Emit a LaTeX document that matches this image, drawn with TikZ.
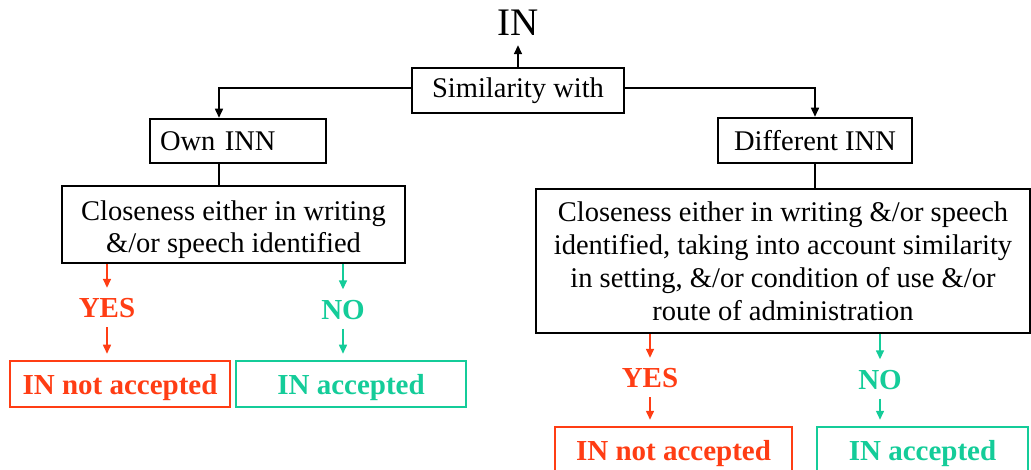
\documentclass[tikz,border=0pt]{standalone}
\usepackage{fontspec}
\setmainfont{Liberation Serif}
\usepackage{xcolor}
\usetikzlibrary{arrows.meta, positioning}

\definecolor{yesred}{HTML}{FF3D14}
\definecolor{nogreen}{HTML}{14CC99}

\tikzset{
  box/.style={draw, line width=2.5pt, inner sep=0pt, align=center,
    font=\fontsize{28.5}{33}\selectfont},
  res/.style={draw, line width=2.5pt, inner sep=0pt, minimum height=46pt,
    text depth=0pt, font=\bfseries\fontsize{29}{33}\selectfont},
  ans/.style={inner sep=0pt, minimum height=37pt,
    font=\bfseries\fontsize{29}{33}\selectfont},
  link/.style={line width=2pt},
  tip/.style={-{Triangle[length=9pt,width=8pt]}, line width=1.5pt},
}

\begin{document}
\begin{tikzpicture}[x=1pt, y=-1pt]

  \useasboundingbox (0,0) rectangle (1031,470);

  % Top of the tree
  \node[inner sep=0pt, minimum height=44pt, font=\fontsize{39}{44}\selectfont] (title) at (518,23) {IN};
  \node[box, minimum width=212pt, minimum height=45pt] (sim) at (518,90.5) {Similarity with};

  % Left branch (own INN)
  \node[box, minimum width=176pt, minimum height=44pt, text width=156pt, align=left] (own) at (238,141) {Own INN};
  \node[box, minimum width=343pt, minimum height=77pt, font=\fontsize{28.5}{32}\selectfont] (cl1) at (233.5,224.5)
    {\rule{0pt}{31pt}Closeness either in writing\\ \&/or speech identified};

  % Right branch (different INN)
  \node[box, minimum width=194pt, minimum height=45pt] (diff) at (815,140.5) {Different INN};
  \node[box, minimum width=494pt, minimum height=144pt] (cl2) at (783,261)
    {Closeness either in writing \&/or speech\\ identified, taking into account similarity\\
     in setting, \&/or condition of use \&/or\\ route of administration};

  % Answers
  \node[ans, yesred] (yes1) at (107,308.5) {YES};
  \node[ans, nogreen] (no1) at (343,310) {NO};
  \node[ans, yesred] (yes2) at (650,378.5) {YES};
  \node[ans, nogreen] (no2) at (880,380) {NO};

  % Outcomes
  \node[res, yesred, minimum width=220pt] (nacc1) at (120,384) {IN not accepted};
  \node[res, nogreen, minimum width=230pt] (acc1) at (351,384) {IN accepted};
  \node[res, yesred, minimum width=237pt] (nacc2) at (673.5,450) {IN not accepted};
  \node[res, nogreen, minimum width=211pt] (acc2) at (922.5,450) {IN accepted};

  % Black connectors
  \draw[tip] (sim.north) -- (title.south);
  \draw[link, tip] ([yshift=2.5pt]sim.west) -| ([xshift=-19pt]own.north);
  \draw[link] ([xshift=-19pt]own.south) -- ([xshift=-19pt]own.south |- cl1.north);
  \draw[link, tip] ([yshift=2.5pt]sim.east) -| (diff.north);
  \draw[link] (diff.south) -- (diff.south |- cl2.north);

  % Coloured arrows
  \foreach \src/\a/\b/\c in {cl1/yes1/nacc1/yesred, cl1/no1/acc1/nogreen,
                             cl2/yes2/nacc2/yesred, cl2/no2/acc2/nogreen} {
    \draw[tip, \c, shorten >=2pt] (\src.south -| \a.north) -- (\a.north);
    \draw[tip, \c, shorten >=6pt] (\a.south) -- (\a.south |- \b.north);
  }
\end{tikzpicture}
\end{document}
